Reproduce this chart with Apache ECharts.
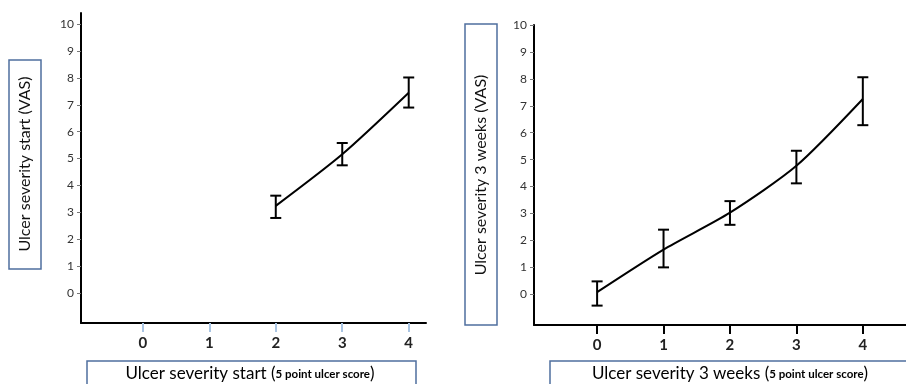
<!DOCTYPE html>
<html>
<head>
<meta charset="utf-8">
<script src="https://cdn.jsdelivr.net/npm/echarts@6/dist/echarts.min.js"></script>
<style>html,body{margin:0;padding:0;background:#fff}#c{width:906px;height:384px}</style>
</head>
<body>
<div id="c"></div>
<script>
// ---- data ----
var xTickValues = [0, 1, 2, 3, 4];
var yTickValues = [0, 1, 2, 3, 4, 5, 6, 7, 8, 9, 10];

var startX = [2, 3, 4];
var startMean = [3.24, 5.16, 7.45];
var startLow = [2.79, 4.75, 6.9];
var startHigh = [3.62, 5.58, 8.02];

var weeksX = [0, 1, 2, 3, 4];
var weeksMean = [0.08, 1.66, 3.03, 4.77, 7.25];
var weeksLow = [-0.42, 1.0, 2.58, 4.12, 6.28];
var weeksHigh = [0.48, 2.4, 3.46, 5.33, 8.06];

var yTitleStart = 'Ulcer severity start (VAS)';
var yTitleWeeks = 'Ulcer severity 3 weeks (VAS)';
var xTitleStartMain = 'Ulcer severity start (';
var xTitleWeeksMain = 'Ulcer severity 3 weeks (';
var xTitleSub = '5 point ulcer score';

var FONT = 'Lato';
var BOX = '#4f6f9f';

function pairs(xs, ys) { return xs.map(function (x, i) { return [x, ys[i]]; }); }
function triples(xs, lo, hi) { return xs.map(function (x, i) { return [x, lo[i], hi[i]]; }); }

function errRender(params, api) {
  var x = api.value(0);
  var lo = api.coord([x, api.value(1)]);
  var hi = api.coord([x, api.value(2)]);
  var w = 5.5;
  var st = { stroke: '#000', lineWidth: 2, fill: null };
  return {
    type: 'group',
    children: [
      { type: 'line', shape: { x1: hi[0], y1: hi[1], x2: lo[0], y2: lo[1] }, style: st },
      { type: 'line', shape: { x1: hi[0] - w, y1: hi[1], x2: hi[0] + w, y2: hi[1] }, style: st },
      { type: 'line', shape: { x1: lo[0] - w, y1: lo[1], x2: lo[0] + w, y2: lo[1] }, style: st }
    ]
  };
}

function xAxisCfg(idx, min, max, tickColor) {
  return {
    type: 'value', gridIndex: idx, min: min, max: max,
    splitLine: { show: false },
    axisLine: { show: true, onZero: false, lineStyle: { color: '#000', width: 2 } },
    axisTick: { show: true, customValues: xTickValues, length: 9, lineStyle: { color: tickColor, width: 2 } },
    axisLabel: { customValues: xTickValues, margin: 13, color: '#222', fontSize: 15, fontFamily: FONT, fontWeight: 'bold' }
  };
}
function yAxisCfg(idx, min, max) {
  return {
    type: 'value', gridIndex: idx, min: min, max: max,
    splitLine: { show: false },
    axisLine: { show: true, onZero: false, lineStyle: { color: '#000', width: 2 } },
    axisTick: { show: true, customValues: yTickValues, length: 4, lineStyle: { color: '#777', width: 1 } },
    axisLabel: { customValues: yTickValues, margin: 7, color: '#333', fontSize: 12, fontFamily: FONT }
  };
}

var chart = echarts.init(document.getElementById('c'), null, { renderer: 'canvas' });
chart.setOption({
  animation: false,
  backgroundColor: '#fff',
  grid: [
    { left: 81, top: 13, width: 345, height: 310 },
    { left: 534, top: 25, width: 372, height: 300 }
  ],
  xAxis: [xAxisCfg(0, -0.93, 4.26, '#a9c4e2'), xAxisCfg(1, -0.95, 4.65, '#000')],
  yAxis: [yAxisCfg(0, -1.12, 10.42), yAxisCfg(1, -1.14, 10)],
  series: [
    { type: 'line', xAxisIndex: 0, yAxisIndex: 0, data: pairs(startX, startMean), smooth: 0.25,
      showSymbol: false, symbol: 'none', lineStyle: { color: '#000', width: 2 } },
    { type: 'custom', xAxisIndex: 0, yAxisIndex: 0, data: triples(startX, startLow, startHigh), renderItem: errRender },
    { type: 'line', xAxisIndex: 1, yAxisIndex: 1, data: pairs(weeksX, weeksMean), smooth: 0.25,
      showSymbol: false, symbol: 'none', lineStyle: { color: '#000', width: 2 } },
    { type: 'custom', xAxisIndex: 1, yAxisIndex: 1, data: triples(weeksX, weeksLow, weeksHigh), renderItem: errRender }
  ],
  graphic: [
    { type: 'rect', shape: { x: 9, y: 60, width: 32, height: 209 }, style: { fill: '#fff', stroke: BOX, lineWidth: 1.5 } },
    { type: 'text', x: 25, y: 164, rotation: Math.PI / 2, style: { text: yTitleStart, font: '16px ' + FONT, fill: '#111', align: 'center', verticalAlign: 'middle' } },
    { type: 'rect', shape: { x: 465, y: 24, width: 32, height: 301 }, style: { fill: '#fff', stroke: BOX, lineWidth: 1.5 } },
    { type: 'text', x: 481, y: 175, rotation: Math.PI / 2, style: { text: yTitleWeeks, font: '16px ' + FONT, fill: '#111', align: 'center', verticalAlign: 'middle' } },
    { type: 'rect', shape: { x: 87, y: 361, width: 329, height: 40 }, style: { fill: '#fff', stroke: BOX, lineWidth: 1.5 } },
    { type: 'text', x: 250, y: 374, style: {
        text: '{a|' + xTitleStartMain + '}{b|' + xTitleSub + '}{a|)}', align: 'center', verticalAlign: 'middle',
        rich: { a: { fontSize: 17, fontFamily: FONT, color: '#111' }, b: { fontSize: 11.5, fontFamily: FONT, fontWeight: 'bold', color: '#111' } } } },
    { type: 'rect', shape: { x: 550, y: 361, width: 380, height: 40 }, style: { fill: '#fff', stroke: BOX, lineWidth: 1.5 } },
    { type: 'text', x: 730, y: 374, style: {
        text: '{a|' + xTitleWeeksMain + '}{b|' + xTitleSub + '}{a|)}', align: 'center', verticalAlign: 'middle',
        rich: { a: { fontSize: 17, fontFamily: FONT, color: '#111' }, b: { fontSize: 11.5, fontFamily: FONT, fontWeight: 'bold', color: '#111' } } } }
  ]
});
</script>
</body>
</html>
